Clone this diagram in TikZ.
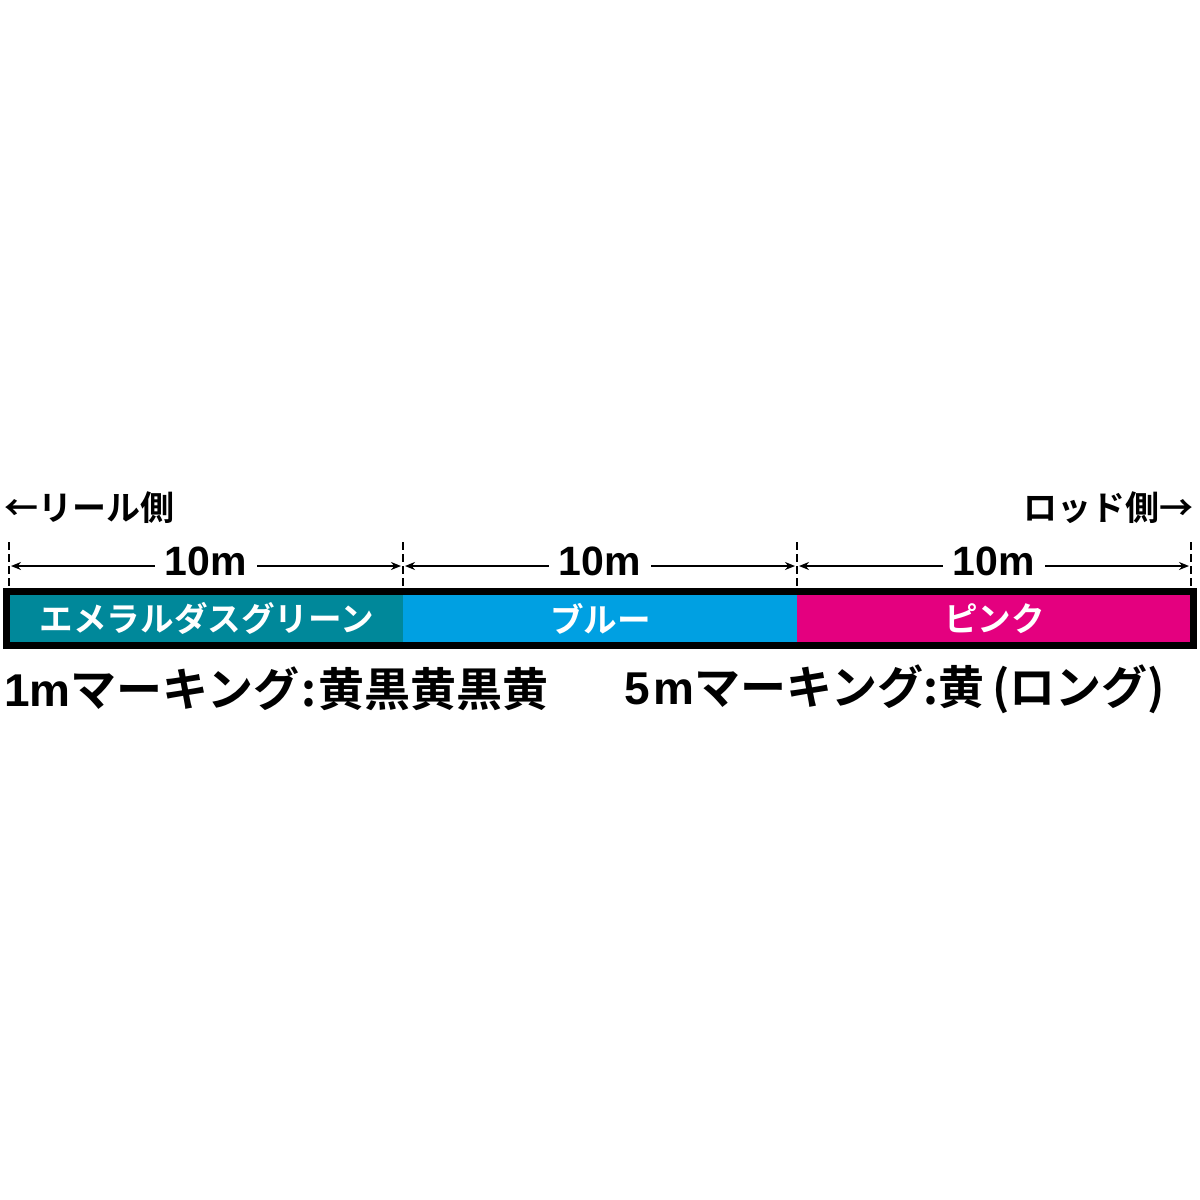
\documentclass[tikz,border=0pt]{standalone}
\usepackage{fontspec}
\newfontfamily\jp{Noto Sans CJK JP}[BoldFont={Noto Sans CJK JP Bold}]
\newfontfamily\lat{Liberation Sans}
\usetikzlibrary{arrows.meta}
\definecolor{cgreen}{HTML}{00889A}
\definecolor{cblue}{HTML}{00A0E2}
\definecolor{cpink}{HTML}{E4007F}
\tikzset{
  seg/.style={minimum height=23.5pt, inner sep=0pt, anchor=west, text=white, font=\jp\bfseries\fontsize{16.8}{16.8}\selectfont},
  tick/.style={dashed, dash pattern=on 4pt off 2pt, line width=0.8pt},
  dim/.style={{Stealth[length=5pt,width=4pt]}-{Stealth[length=5pt,width=4pt]}, line width=0.9pt},
  dimlab/.style={fill=white, inner xsep=5pt, inner ysep=0pt, yshift=2.2pt, font=\lat\bfseries\fontsize{20.5}{20.5}\selectfont},
  side/.style={font=\jp\bfseries\fontsize{17}{17}\selectfont, inner sep=0pt},
  marktext/.style={font=\jp\bfseries\fontsize{23}{23}\selectfont, inner sep=0pt, anchor=west}
}
\begin{document}
\begin{tikzpicture}[x=0.5pt, y=-0.5pt]
\path[fill=white] (0,0) rectangle (1200,1200);
\useasboundingbox (0,0) rectangle (1200,1200);
% bar segments
\node[seg, fill=cgreen, minimum width=196.5pt] (g) at (10,618.5) {エメラルダスグリーン};
\node[seg, fill=cblue, minimum width=197pt] (b) at (403,618.5) {ブルー};
\node[seg, fill=cpink, minimum width=197pt] (p) at (797,618.5) {ピンク};
\draw[line width=3.5pt] (6.5,591.5) rectangle (1193.5,645.5);
% ticks
\coordinate (t0) at (9,542);  \coordinate (b0) at (9,588);
\coordinate (t1) at (403,542); \coordinate (b1) at (403,588);
\coordinate (t2) at (797,542); \coordinate (b2) at (797,588);
\coordinate (t3) at (1191,542); \coordinate (b3) at (1191,588);
\foreach \i in {0,1,2,3} \draw[tick] (t\i) -- (b\i);
% dimension lines
\coordinate (a0) at (11,566); \coordinate (a1l) at (401,566);
\coordinate (a1r) at (405,566); \coordinate (a2l) at (795,566);
\coordinate (a2r) at (799,566); \coordinate (a3) at (1189,566);
\draw[dim] (a0) -- node[dimlab] (l1) {10m} (a1l);
\draw[dim] (a1r) -- node[dimlab] (l2) {10m} (a2l);
\draw[dim] (a2r) -- node[dimlab] (l3) {10m} (a3);
% side labels
\node[side, anchor=west] (reel) at (4,508) {←リール側};
\node[side, anchor=east] (rod) at (1194,508) {ロッド側→};
% marking texts
\node[marktext] (m1) at (4,689) {{\lat\bfseries 1m}マーキング\kern1pt:\kern1pt 黄黒黄黒黄};
\node[marktext] (m5) at (624,689) {{\lat\bfseries 5\kern2pt m}マーキング:黄\,(ロング)};
\end{tikzpicture}
\end{document}
